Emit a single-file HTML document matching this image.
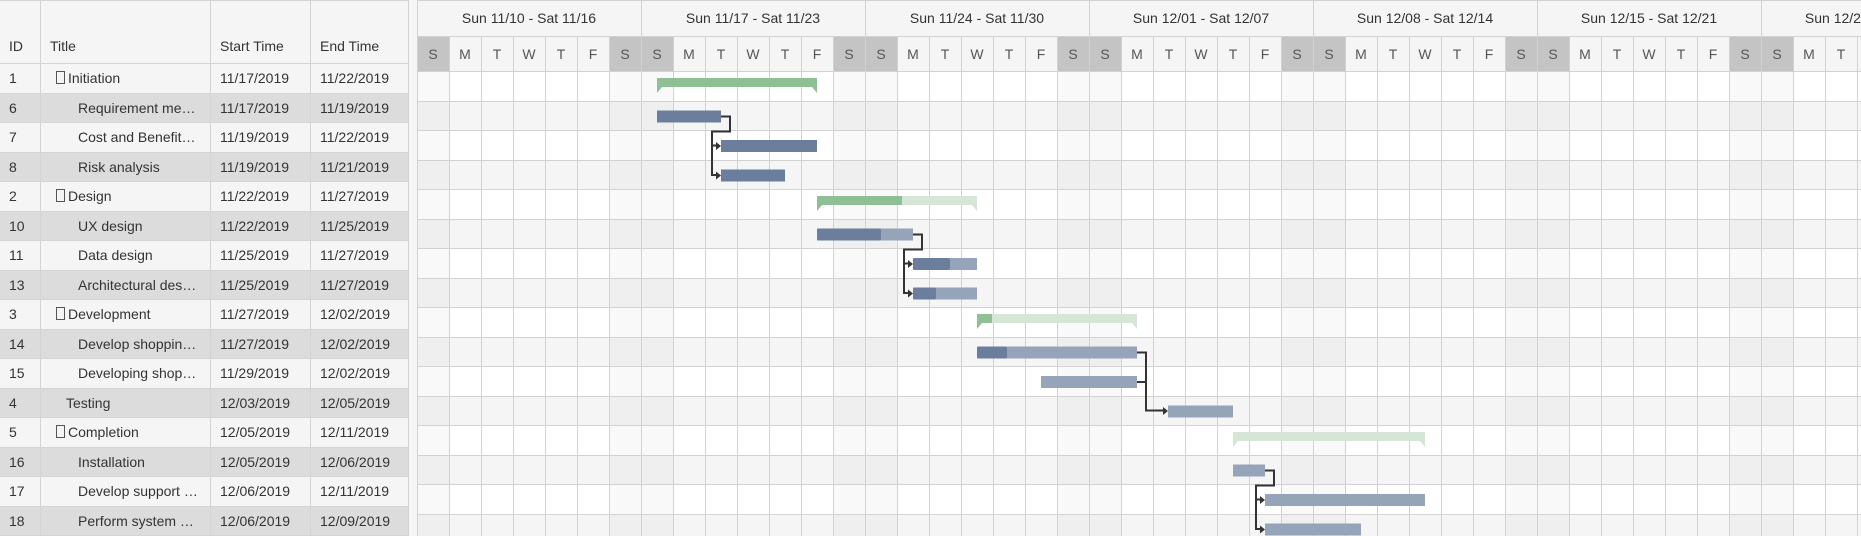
<!DOCTYPE html>
<html><head><meta charset="utf-8"><style>
body{margin:0;width:1861px;height:536px;overflow:hidden;background:#f5f5f5;font-family:"Liberation Sans",sans-serif;color:#333;position:relative}
.t{position:absolute;left:0;top:0;width:409px;height:536px}
.c{position:absolute;font-size:14px;white-space:nowrap;box-sizing:border-box;border-right:1px solid #d4d4d4;border-bottom:1px solid #d4d4d4;line-height:29px;padding-left:9px;overflow:hidden}
.bx{display:inline-block;width:7px;height:11px;border:1px solid #555;vertical-align:-1px;margin-right:3px}
</style></head><body>
<div class="t" id="t"></div>
<svg style="position:absolute;left:417px;top:0" width="1444" height="536" font-family="Liberation Sans, sans-serif">
<g id="bg"></g>
<rect x="0" y="0" width="1444" height="72" fill="#f5f5f5"/>
<g id="hdr"></g>
<g fill="#d2d2d2"><rect x="0" y="0" width="1444" height="1"/><rect x="0" y="36" width="1444" height="1"/><rect x="0" y="71" width="1444" height="1"/>
<rect x="0" y="0" width="1" height="36"/><rect x="224" y="0" width="1" height="36"/><rect x="448" y="0" width="1" height="36"/><rect x="672" y="0" width="1" height="36"/><rect x="896" y="0" width="1" height="36"/><rect x="1120" y="0" width="1" height="36"/><rect x="1344" y="0" width="1" height="36"/></g>
<g font-size="14" fill="#333" text-anchor="middle">
<text x="112" y="23">Sun 11/10 - Sat 11/16</text><text x="336" y="23">Sun 11/17 - Sat 11/23</text><text x="560" y="23">Sun 11/24 - Sat 11/30</text><text x="784" y="23">Sun 12/01 - Sat 12/07</text><text x="1008" y="23">Sun 12/08 - Sat 12/14</text><text x="1232" y="23">Sun 12/15 - Sat 12/21</text><text x="1456" y="23">Sun 12/22 - Sat 12/28</text>
</g>
<g font-size="14" fill="#555" text-anchor="middle" id="days"></g>
<g>
<path d="M240 78h160v15l-5-6h-150l-5 6z" fill="#8fbf94"/>
<rect x="240" y="110.5" width="64" height="12" fill="#6b7f9c"/>
<rect x="304" y="140" width="96" height="12" fill="#6b7f9c"/>
<rect x="304" y="169.5" width="64" height="12" fill="#6b7f9c"/>
<path d="M400 196h160v15l-5-6h-150l-5 6z" fill="#d5e6d6"/><rect x="400" y="196" width="85" height="9" fill="#8fbf94"/><path d="M400 205h5l-5 6z" fill="#8fbf94"/>
<rect x="400" y="228.5" width="96" height="12" fill="#95a4b8"/><rect x="400" y="228.5" width="64" height="12" rx="2" fill="#6b7f9c"/>
<rect x="496" y="258" width="64" height="12" fill="#95a4b8"/><rect x="496" y="258" width="37" height="12" rx="2" fill="#6b7f9c"/>
<rect x="496" y="287.5" width="64" height="12" fill="#95a4b8"/><rect x="496" y="287.5" width="23" height="12" rx="2" fill="#6b7f9c"/>
<path d="M560 314h160v15l-5-6h-150l-5 6z" fill="#d5e6d6"/><rect x="560" y="314" width="15" height="9" fill="#8fbf94"/><path d="M560 323h5l-5 6z" fill="#8fbf94"/>
<rect x="560" y="346.5" width="160" height="12" fill="#95a4b8"/><rect x="560" y="346.5" width="30" height="12" rx="2" fill="#6b7f9c"/>
<rect x="624" y="376" width="96" height="12" fill="#95a4b8"/>
<rect x="751" y="405.5" width="65" height="12" fill="#95a4b8"/>
<path d="M816 432h192v15l-5-6h-182l-5 6z" fill="#d5e6d6"/>
<rect x="816" y="464.5" width="32" height="12" fill="#95a4b8"/>
<rect x="848" y="494" width="160" height="12" fill="#95a4b8"/>
<rect x="848" y="523.5" width="96" height="12" fill="#95a4b8"/>
</g>
<g fill="none" stroke="#333" stroke-width="2">
<path d="M304 116.5h9v15h-18v14h6M295 145v30h6"/>
<path d="M496 234.5h9v15h-18v14h6M487 263v30h6"/>
<path d="M720 352.5h9v58h17M720 382h9"/>
<path d="M848 470.5h9v15h-18v14h6M839 499v30h6"/>
</g>
<g fill="#333">
<path d="M304 146l-5-4v8z"/><path d="M304 175.5l-5-4v8z"/>
<path d="M496 264l-5-4v8z"/><path d="M496 293.5l-5-4v8z"/>
<path d="M751 411l-5-4v8z"/>
<path d="M848 500l-5-4v8z"/><path d="M848 529.5l-5-4v8z"/>
</g>
</svg>
<script>
var L="SMTWTFS",s='',b='',hh='';
for(var i=0;i<16;i++){var y=72+i*29.5;b+='<rect x="0" y="'+y+'" width="1444" height="29.5" fill="'+(i%2?'#f5f5f5':'#fff')+'"/>';}
for(var d=0;d<46;d++){var x=d*32;if(d%7==0||d%7==6){b+='<rect x="'+x+'" y="72" width="32" height="464" fill="#000" fill-opacity="0.025"/>';hh+='<rect x="'+x+'" y="36" width="32" height="36" fill="#c4c4c4"/>';}
s+='<text x="'+(x+16)+'" y="59">'+L[d%7]+'</text>';}
for(var i=0;i<16;i++){var y=72+i*29.5;b+='<rect x="0" y="'+(Math.round(y)-1)+'" width="1444" height="1" fill="#d2d2d2"/>';}
for(var d=0;d<46;d++){b+='<rect x="'+d*32+'" y="36" width="1" height="500" fill="#d2d2d2"/>';hh+='<rect x="'+d*32+'" y="36" width="1" height="36" fill="#d2d2d2"/>';}
document.getElementById('bg').innerHTML=b;
document.getElementById('hdr').innerHTML=hh;
document.getElementById('days').innerHTML=s;
var rows=[["1","I","Initiation","11/17/2019","11/22/2019"],["6","c","Requirement me…","11/17/2019","11/19/2019"],["7","c","Cost and Benefit…","11/19/2019","11/22/2019"],["8","c","Risk analysis","11/19/2019","11/21/2019"],["2","I","Design","11/22/2019","11/27/2019"],["10","c","UX design","11/22/2019","11/25/2019"],["11","c","Data design","11/25/2019","11/27/2019"],["13","c","Architectural des…","11/25/2019","11/27/2019"],["3","I","Development","11/27/2019","12/02/2019"],["14","c","Develop shoppin…","11/27/2019","12/02/2019"],["15","c","Developing shop…","11/29/2019","12/02/2019"],["4","p","Testing","12/03/2019","12/05/2019"],["5","I","Completion","12/05/2019","12/11/2019"],["16","c","Installation","12/05/2019","12/06/2019"],["17","c","Develop support …","12/06/2019","12/11/2019"],["18","c","Perform system …","12/06/2019","12/09/2019"]];
var X=[0,41,211,311],W=[41,170,100,98],h='';
var hd=["ID","Title","Start Time","End Time"];
for(var i=0;i<4;i++)h+='<div class="c" style="left:'+X[i]+'px;top:0;width:'+W[i]+'px;height:64px;line-height:18px;padding-top:36px;background:#f5f5f5;border-top:1px solid #d4d4d4">'+hd[i]+'</div>';
rows.forEach(function(r,k){var y=64+k*29.5,bg=k%2?'#dcdcdc':'#f5f5f5';
var t=r[1]=='I'?'<span style="padding-left:6px"><span class="bx"></span>'+r[2]+'</span>':r[1]=='c'?'<span style="padding-left:28px">'+r[2]+'</span>':'<span style="padding-left:16px">'+r[2]+'</span>';
var v=[r[0],t,r[3],r[4]];
for(var i=0;i<4;i++)h+='<div class="c" style="left:'+X[i]+'px;top:'+y+'px;width:'+W[i]+'px;height:29.5px;background:'+bg+'">'+v[i]+'</div>';});
document.getElementById('t').innerHTML=h;
</script>
</body></html>
